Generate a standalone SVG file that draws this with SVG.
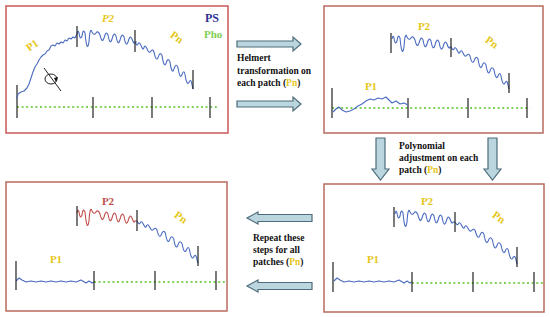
<svg xmlns="http://www.w3.org/2000/svg" xmlns:xlink="http://www.w3.org/1999/xlink" width="550" height="317" viewBox="0 0 550 317">
<style>
.panel{fill:#fff;stroke:#b86a5e;stroke-width:1.5}
.tick{stroke:#222;stroke-width:1.2}
.base{stroke:#7fd35a;stroke-width:2;stroke-dasharray:2 2.6}
.curve{fill:none;stroke:#4a6bc0;stroke-width:1.1;stroke-linejoin:round}
.lbl{font-family:"Liberation Serif",serif;font-weight:bold;font-size:11px;fill:#e6c619}
.txt{font-family:"Liberation Serif",serif;font-weight:bold;font-size:9.5px;fill:#111}
.y{fill:#e6c619}
.barrow{fill:#bcd6df;stroke:#4d6d7a;stroke-width:1.2}
</style>
<defs>
<path id="p2" fill="none" stroke-linejoin="round" vector-effect="non-scaling-stroke" d="M0,0 Q1,-5 2,-1 Q3,7 5,2 Q6,-6 8,-1 Q10,20 12,8 Q13,-8 15,-2 Q17,2 19,-1 Q21,-4 23,1 Q25,10 27,4 Q29,-4 31,1 Q33,12 35,5 Q37,-3 39,2 Q41,13 43,6 Q45,-2 47,3 Q49,14 51,8 Q53,0 55,5 Q57,11 58,8 L60,8"/>
<path id="pn" fill="none" stroke-linejoin="round" vector-effect="non-scaling-stroke" d="M0,0 Q2,4 3,2 Q4,-1 6,3 Q8,8 9,5 Q10,2 12,6 Q14,11 16,8 Q18,6 19,9 Q21,18 23,14 Q25,8 27,12 Q29,24 31,19 Q33,13 35,18 Q37,30 39,24 Q41,18 43,23 Q45,34 47,29 Q49,24 50,29 Q52,40 54,36 Q56,32 57,38 L58,42"/>
<path id="p1flat" fill="none" stroke-linejoin="round" d="M0,0 L3,-3 6,-1 10,1 15,0 20,1 25,0 30,1 35,0 40,1 45,0 50,1 55,0 60,1 65,-1 70,2 73,0 76,2 78,1"/>
</defs>

<g id="panel-original">
<rect class="panel" x="6" y="6" width="222" height="127" style="stroke:#c9585a"/>
<line class="base" x1="17" y1="107" x2="217" y2="107"/>
<line class="tick" x1="17" y1="85" x2="17" y2="118"/>
<line class="tick" x1="93" y1="97" x2="93" y2="118"/>
<line class="tick" x1="152" y1="97" x2="152" y2="118"/>
<line class="tick" x1="210" y1="97" x2="210" y2="118"/>
<path class="curve" d="M17,99 L18,94 21,92 24,91 27,88 29,84 31,78 33,72 35,67 37,64 39,60 41,57 43,55 45,54 47,51 49,50 51,46 53,45 55,46 57,43 59,44 61,42 63,43 65,40 67,41 69,38 71,39 73,37 75,38 77,34"/>
<use xlink:href="#p2" transform="translate(77,34)" stroke="#4a6bc0" stroke-width="1.1"/>
<use xlink:href="#pn" transform="translate(135,42) scale(1,1.12)" stroke="#4a6bc0" stroke-width="1.1"/>
<line class="tick" x1="77" y1="26" x2="77" y2="47"/>
<line class="tick" x1="135" y1="30" x2="135" y2="52"/>
<line class="tick" x1="193" y1="70" x2="193" y2="89"/>
<line x1="44" y1="68" x2="61" y2="91" stroke="#222" stroke-width="1"/>
<ellipse cx="51" cy="79" rx="6" ry="5" fill="none" stroke="#222" stroke-width="1"/>
<polygon points="54,78 58,77 56,82" fill="#111"/>
<text class="lbl" x="32" y="49" text-anchor="middle" transform="rotate(-35 32 45)">P1</text>
<text class="lbl" x="108" y="22" text-anchor="middle" font-style="italic">P2</text>
<text class="lbl" x="177" y="41" text-anchor="middle" transform="rotate(35 177 37)">Pn</text>
<text x="205" y="22" style="font-family:'Liberation Serif',serif;font-weight:bold;font-size:12px;fill:#2e3192">PS</text>
<text x="204" y="38" style="font-family:'Liberation Serif',serif;font-weight:bold;font-size:11px;fill:#7fcf4f">Pho</text>
</g>

<g id="panel-helmert">
<rect class="panel" x="324" y="6" width="219" height="127"/>
<line class="base" x1="332" y1="108" x2="530" y2="108"/>
<line class="tick" x1="332" y1="88" x2="332" y2="118"/>
<line class="tick" x1="408" y1="98" x2="408" y2="118"/>
<line class="tick" x1="468" y1="98" x2="468" y2="118"/>
<line class="tick" x1="527" y1="98" x2="527" y2="118"/>
<path class="curve" d="M333,112 L336,109 339,107 342,110 346,112 350,111 354,109 358,106 362,104 366,101 370,99 374,100 378,98 382,99 386,97 389,100 392,103 396,101 400,104 404,103 408,105"/>
<use xlink:href="#p2" transform="translate(392,39)" stroke="#4a6bc0" stroke-width="1.1"/>
<use xlink:href="#pn" transform="translate(451,47)" stroke="#4a6bc0" stroke-width="1.1"/>
<line class="tick" x1="391" y1="33" x2="391" y2="53"/>
<line class="tick" x1="451" y1="38" x2="451" y2="57"/>
<line class="tick" x1="509" y1="73" x2="509" y2="93"/>
<text class="lbl" x="424" y="30" text-anchor="middle">P2</text>
<text class="lbl" x="492" y="46" text-anchor="middle" transform="rotate(35 492 42)">Pn</text>
<text class="lbl" x="371" y="90" text-anchor="middle">P1</text>
</g>

<g id="panel-polynomial">
<rect class="panel" x="324" y="184" width="220" height="128"/>
<line class="base" x1="412" y1="283" x2="543" y2="283"/>
<use xlink:href="#p1flat" transform="translate(334,281)" stroke="#4a6bc0" stroke-width="1.1"/>
<line class="tick" x1="333" y1="262" x2="333" y2="292"/>
<line class="tick" x1="412" y1="272" x2="412" y2="292"/>
<line class="tick" x1="473" y1="272" x2="473" y2="292"/>
<line class="tick" x1="534" y1="272" x2="534" y2="292"/>
<use xlink:href="#p2" transform="translate(395,214)" stroke="#4a6bc0" stroke-width="1.1"/>
<use xlink:href="#pn" transform="translate(455,222) scale(1.07,1)" stroke="#4a6bc0" stroke-width="1.1"/>
<line class="tick" x1="394" y1="207" x2="394" y2="227"/>
<line class="tick" x1="455" y1="212" x2="455" y2="232"/>
<line class="tick" x1="517" y1="247" x2="517" y2="267"/>
<text class="lbl" x="427" y="205" text-anchor="middle">P2</text>
<text class="lbl" x="499" y="221" text-anchor="middle" transform="rotate(35 499 217)">Pn</text>
<text class="lbl" x="373" y="263" text-anchor="middle">P1</text>
</g>

<g id="panel-repeat">
<rect class="panel" x="6" y="182" width="221" height="129"/>
<line class="base" x1="94" y1="282" x2="225" y2="282"/>
<use xlink:href="#p1flat" transform="translate(16,281)" stroke="#4a6bc0" stroke-width="1.1"/>
<line class="tick" x1="16" y1="261" x2="16" y2="290"/>
<line class="tick" x1="94" y1="271" x2="94" y2="290"/>
<line class="tick" x1="155" y1="271" x2="155" y2="290"/>
<line class="tick" x1="216" y1="271" x2="216" y2="290"/>
<use xlink:href="#p2" transform="translate(77,213)" stroke="#c0504d" stroke-width="1.1"/>
<use xlink:href="#pn" transform="translate(137,221) scale(1.05,1)" stroke="#4a6bc0" stroke-width="1.1"/>
<line class="tick" x1="77" y1="206" x2="77" y2="226"/>
<line class="tick" x1="137" y1="210" x2="137" y2="231"/>
<line class="tick" x1="198" y1="246" x2="198" y2="266"/>
<text class="lbl" x="108" y="205" text-anchor="middle" style="fill:#c0504d">P2</text>
<text class="lbl" x="181" y="221" text-anchor="middle" transform="rotate(35 181 217)">Pn</text>
<text class="lbl" x="56" y="263" text-anchor="middle">P1</text>
</g>

<g id="connectors">
<polygon class="barrow" points="237,41 293,41 293,37 301,44 293,51 293,47 237,47"/>
<polygon class="barrow" points="237,101 293,101 293,97 301,104 293,111 293,107 237,107"/>
<text class="txt" x="237" y="61">Helmert</text>
<text class="txt" x="237" y="74">transformation on</text>
<text class="txt" x="237" y="86">each patch (<tspan class="y">Pn</tspan>)</text>

<polygon class="barrow" points="376,138 385,138 385,169 389,169 380.5,180 372,169 376,169"/>
<polygon class="barrow" points="488,138 497,138 497,169 501,169 492.5,180 484,169 488,169"/>
<text class="txt" x="399" y="149">Polynomial</text>
<text class="txt" x="399" y="161">adjustment on each</text>
<text class="txt" x="399" y="173">patch (<tspan class="y">Pn</tspan>)</text>

<polygon class="barrow" points="312,214.5 258,214.5 258,212 247,218 258,224 258,221.5 312,221.5"/>
<polygon class="barrow" points="312,282.5 258,282.5 258,280 247,286 258,292 258,289.5 312,289.5"/>
<text class="txt" x="253" y="241">Repeat these</text>
<text class="txt" x="253" y="253">steps for all</text>
<text class="txt" x="253" y="265">patches (<tspan class="y">Pn</tspan>)</text>
</g>
</svg>
